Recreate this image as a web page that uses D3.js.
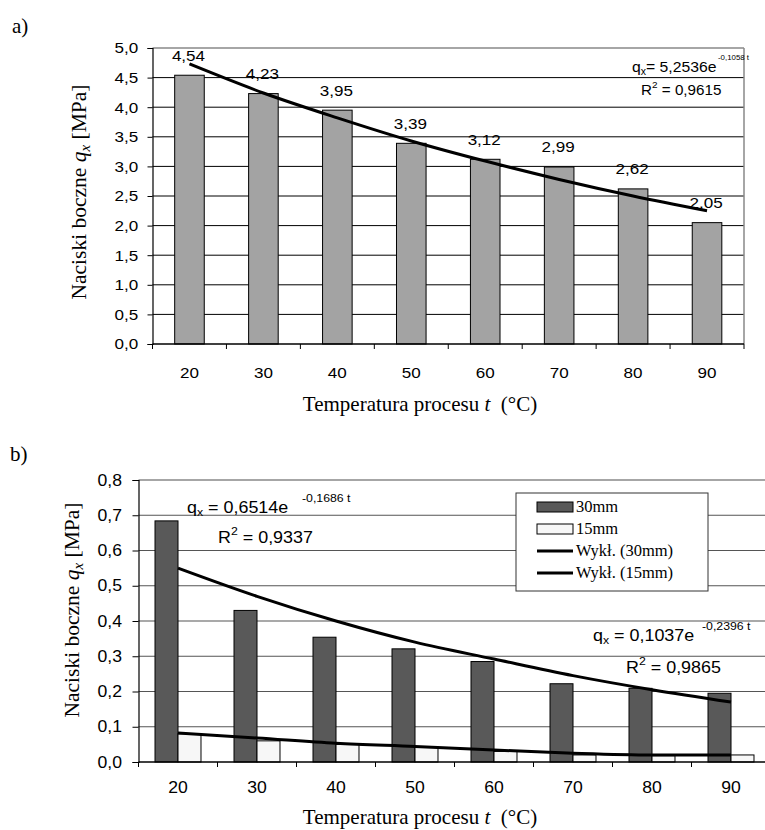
<!DOCTYPE html>
<html>
<head>
<meta charset="utf-8">
<script src="https://cdn.jsdelivr.net/npm/d3@7"></script>
<style>
body{margin:0;background:#fff;}
svg{display:block;}
</style>
</head>
<body>
<svg id="c" width="765" height="830"></svg>
<script>
// ---------- data ----------
const categories = ["20","30","40","50","60","70","80","90"];
// chart a
const valuesA = [4.54, 4.23, 3.95, 3.39, 3.12, 2.99, 2.62, 2.05];
const trendA  = [4.73, 4.24, 3.82, 3.43, 3.09, 2.78, 2.50, 2.25];
const yTicksA = [0, 0.5, 1, 1.5, 2, 2.5, 3, 3.5, 4, 4.5, 5];
// chart b
const values30 = [0.684, 0.43, 0.354, 0.321, 0.285, 0.222, 0.209, 0.195];
const values15 = [0.08, 0.06, 0.05, 0.042, 0.03, 0.02, 0.018, 0.02];
const trend30  = [0.550, 0.470, 0.400, 0.340, 0.292, 0.245, 0.205, 0.170];
const trend15  = [0.082, 0.068, 0.053, 0.044, 0.034, 0.025, 0.020, 0.020];
const yTicksB  = [0, 0.1, 0.2, 0.3, 0.4, 0.5, 0.6, 0.7, 0.8];
const seriesB  = ["30mm", "15mm"];
const legendB  = ["30mm", "15mm", "Wykł. (30mm)", "Wykł. (15mm)"];

const fmt = v => d3.format(".1f")(v).replace(".", ",");
const fmt2 = v => d3.format(".2f")(v).replace(".", ",");
const svg = d3.select("#c");
const SANS = "Arial, 'Liberation Sans', sans-serif";
const SERIF = "'Times New Roman', 'Liberation Serif', serif";
const SX = 1.1; // horizontal stretch of the sans text in the source

function stext(parent, x, y, size, sx) {
  return parent.append("text").attr("transform", `translate(${x},${y}) scale(${sx || SX},1)`)
    .attr("font-family", SANS).attr("font-size", size).attr("fill", "#000");
}
function xTitle(y) {
  svg.append("text").attr("x", 420).attr("y", y).attr("text-anchor", "middle")
    .attr("font-family", SERIF).attr("font-size", 21).attr("xml:space", "preserve")
    .html('Temperatura procesu <tspan font-style="italic">t</tspan>  (°C)');
}
function yTitle(x, y) {
  const yt = svg.append("text").attr("transform", `translate(${x},${y}) rotate(-90)`)
    .attr("text-anchor", "middle").attr("font-family", SERIF).attr("font-size", 21.5);
  yt.append("tspan").text("Naciski boczne ");
  yt.append("tspan").attr("font-style", "italic").text("q");
  yt.append("tspan").attr("font-style", "italic").attr("font-size", 15).attr("dy", 4).text("x");
  yt.append("tspan").attr("dy", -4).text(" [MPa]");
}

// ================= chart a =================
{
  const L = 152.5, R = 744, T = 48, B = 344;
  const x = d3.scaleBand().domain(categories).range([L, R]).paddingInner(0.6).paddingOuter(0.3);
  const xc = d3.scalePoint().domain(categories).range([L, R]).padding(0.5);
  const y = d3.scaleLinear().domain([0, 5]).range([B, T]);
  const g = svg.append("g");

  svg.append("text").attr("x", 12).attr("y", 33).attr("font-family", SERIF).attr("font-size", 21).text("a)");

  g.selectAll("line.grid").data(yTicksA.filter(d => d > 0 && d < 5)).join("line")
    .attr("x1", L).attr("x2", R).attr("y1", d => y(d)).attr("y2", d => y(d))
    .attr("stroke", "#000").attr("stroke-width", 1);
  g.append("line").attr("x1", L).attr("x2", R).attr("y1", T).attr("y2", T).attr("stroke", "#888").attr("stroke-width", 1.5);
  g.append("line").attr("x1", R).attr("x2", R).attr("y1", T).attr("y2", B).attr("stroke", "#888").attr("stroke-width", 1.5);

  g.selectAll("rect.bar").data(valuesA).join("rect")
    .attr("x", (d, i) => x(categories[i])).attr("width", x.bandwidth())
    .attr("y", d => y(d)).attr("height", d => B - y(d))
    .attr("fill", "#a3a3a3").attr("stroke", "#000").attr("stroke-width", 1);

  const line = d3.line().x((d, i) => xc(categories[i])).y(d => y(d)).curve(d3.curveMonotoneX);
  g.append("path").datum(trendA).attr("d", line).attr("fill", "none").attr("stroke", "#000").attr("stroke-width", 3);

  valuesA.forEach((v, i) => {
    stext(g, xc(categories[i]) - 1, y(v) - 14.5, 15.5).attr("text-anchor", "middle").text(fmt2(v));
  });

  const ya = d3.axisLeft(y).tickValues(yTicksA).tickFormat(fmt).tickSize(5).tickPadding(8);
  const yg = g.append("g").attr("transform", `translate(${L},0)`).call(ya);
  yg.select(".domain").attr("stroke", "#000").attr("stroke-width", 1.2);
  yg.selectAll("text").attr("font-family", SANS).attr("font-size", 15.5).attr("fill", "#000")
    .attr("transform", `scale(${SX},1)`);

  g.append("line").attr("x1", L).attr("x2", R).attr("y1", B).attr("y2", B).attr("stroke", "#000").attr("stroke-width", 1.5);
  const bounds = d3.range(categories.length + 1).map(i => L + i * (R - L) / categories.length);
  g.selectAll("line.xt").data(bounds).join("line")
    .attr("x1", d => d).attr("x2", d => d).attr("y1", B).attr("y2", B + 5).attr("stroke", "#000");
  categories.forEach(c => stext(g, xc(c), 378, 15.5).attr("text-anchor", "middle").text(c));

  // equation
  const eq = stext(g, 632, 71.5, 15, 1.05);
  eq.append("tspan").text("q");
  eq.append("tspan").attr("font-size", 10).attr("dy", 3).text("x");
  eq.append("tspan").attr("dy", -3).text("= 5,2536e");
  stext(g, 718, 60, 7.5, 1.05).text("-0,1058 t");
  const r2 = stext(g, 641, 95, 14.5, 1.05);
  r2.append("tspan").text("R");
  r2.append("tspan").attr("font-size", 9.5).attr("dy", -7).text("2");
  r2.append("tspan").attr("dy", 7).text(" = 0,9615");

  xTitle(411);
  yTitle(86, (T + B) / 2 - 4);
}

// ================= chart b =================
{
  const L = 138.5, STEP = 79, T = 480, B = 762;
  const R = L + STEP * categories.length;
  const x0 = d3.scaleBand().domain(categories).range([L, R]).paddingInner(0.418).paddingOuter(0.209);
  const x1 = d3.scaleBand().domain(seriesB).range([0, x0.bandwidth()]);
  const xc = d3.scalePoint().domain(categories).range([L, R]).padding(0.5);
  const y = d3.scaleLinear().domain([0, 0.8]).range([B, T]);
  const g = svg.append("g");

  svg.append("text").attr("x", 10).attr("y", 461).attr("font-family", SERIF).attr("font-size", 21).text("b)");

  g.selectAll("line.grid").data(yTicksB.filter(d => d > 0)).join("line")
    .attr("x1", L).attr("x2", R).attr("y1", d => y(d)).attr("y2", d => y(d))
    .attr("stroke", d => d === 0.8 ? "#888" : "#555").attr("stroke-width", d => d === 0.8 ? 1.5 : 1.2);

  const cols = {"30mm": "#595959", "15mm": "#f7f7f7"};
  const series = {"30mm": values30, "15mm": values15};
  seriesB.forEach(s => {
    g.selectAll("rect.b" + s).data(series[s]).join("rect")
      .attr("x", (d, i) => x0(categories[i]) + x1(s)).attr("width", x1.bandwidth())
      .attr("y", d => y(d)).attr("height", d => B - y(d))
      .attr("fill", cols[s]).attr("stroke", "#000").attr("stroke-width", 1);
  });

  const line = d3.line().x((d, i) => xc(categories[i])).y(d => y(d)).curve(d3.curveMonotoneX);
  [trend30, trend15].forEach(t => {
    g.append("path").datum(t).attr("d", line).attr("fill", "none").attr("stroke", "#000").attr("stroke-width", 3);
  });

  const ya = d3.axisLeft(y).tickValues(yTicksB).tickFormat(fmt).tickSize(6).tickPadding(9);
  const yg = g.append("g").attr("transform", `translate(${L},0)`).call(ya);
  yg.select(".domain").attr("stroke", "#000").attr("stroke-width", 1.2);
  yg.selectAll("text").attr("font-family", SANS).attr("font-size", 16).attr("fill", "#000")
    .attr("transform", `scale(${SX},1)`);

  g.append("line").attr("x1", L).attr("x2", R).attr("y1", B).attr("y2", B).attr("stroke", "#000").attr("stroke-width", 1.5);
  const bounds = d3.range(categories.length + 1).map(i => L + i * STEP);
  g.selectAll("line.xt").data(bounds).join("line")
    .attr("x1", d => d).attr("x2", d => d).attr("y1", B).attr("y2", B + 5).attr("stroke", "#000");
  categories.forEach(c => stext(g, xc(c), 793, 16).attr("text-anchor", "middle").text(c));

  // equations
  const e1 = stext(g, 187, 513, 16, 1.12);
  e1.append("tspan").text("q");
  e1.append("tspan").attr("font-size", 11).attr("dy", 3).text("x");
  e1.append("tspan").attr("dy", -3).text(" = 0,6514e");
  stext(g, 302, 502, 11, 1.12).text("-0,1686 t");
  const r1 = stext(g, 218, 543, 16, 1.12);
  r1.append("tspan").text("R");
  r1.append("tspan").attr("font-size", 11).attr("dy", -8).text("2");
  r1.append("tspan").attr("dy", 8).text(" = 0,9337");

  const e2 = stext(g, 593, 641, 16, 1.12);
  e2.append("tspan").text("q");
  e2.append("tspan").attr("font-size", 11).attr("dy", 3).text("x");
  e2.append("tspan").attr("dy", -3).text(" = 0,1037e");
  stext(g, 702, 630, 11, 1.12).text("-0,2396 t");
  const r3 = stext(g, 626, 673, 16, 1.12);
  r3.append("tspan").text("R");
  r3.append("tspan").attr("font-size", 11).attr("dy", -8).text("2");
  r3.append("tspan").attr("dy", 8).text(" = 0,9865");

  // legend
  const lg = g.append("g");
  lg.append("rect").attr("x", 516).attr("y", 493).attr("width", 192).attr("height", 98)
    .attr("fill", "#fff").attr("stroke", "#333").attr("stroke-width", 1);
  legendB.forEach((name, i) => {
    const yy = 507 + i * 22;
    if (i < 2) {
      lg.append("rect").attr("x", 537).attr("y", yy - 5).attr("width", 36).attr("height", 10)
        .attr("fill", cols[seriesB[i]]).attr("stroke", "#000").attr("stroke-width", 1);
    } else {
      lg.append("line").attr("x1", 537).attr("x2", 573).attr("y1", yy).attr("y2", yy)
        .attr("stroke", "#000").attr("stroke-width", 3);
    }
    lg.append("text").attr("x", 576).attr("y", yy + 5).attr("font-family", SERIF).attr("font-size", 16.5).text(name);
  });

  xTitle(824);
  yTitle(79, 610);
}
</script>
</body>
</html>
